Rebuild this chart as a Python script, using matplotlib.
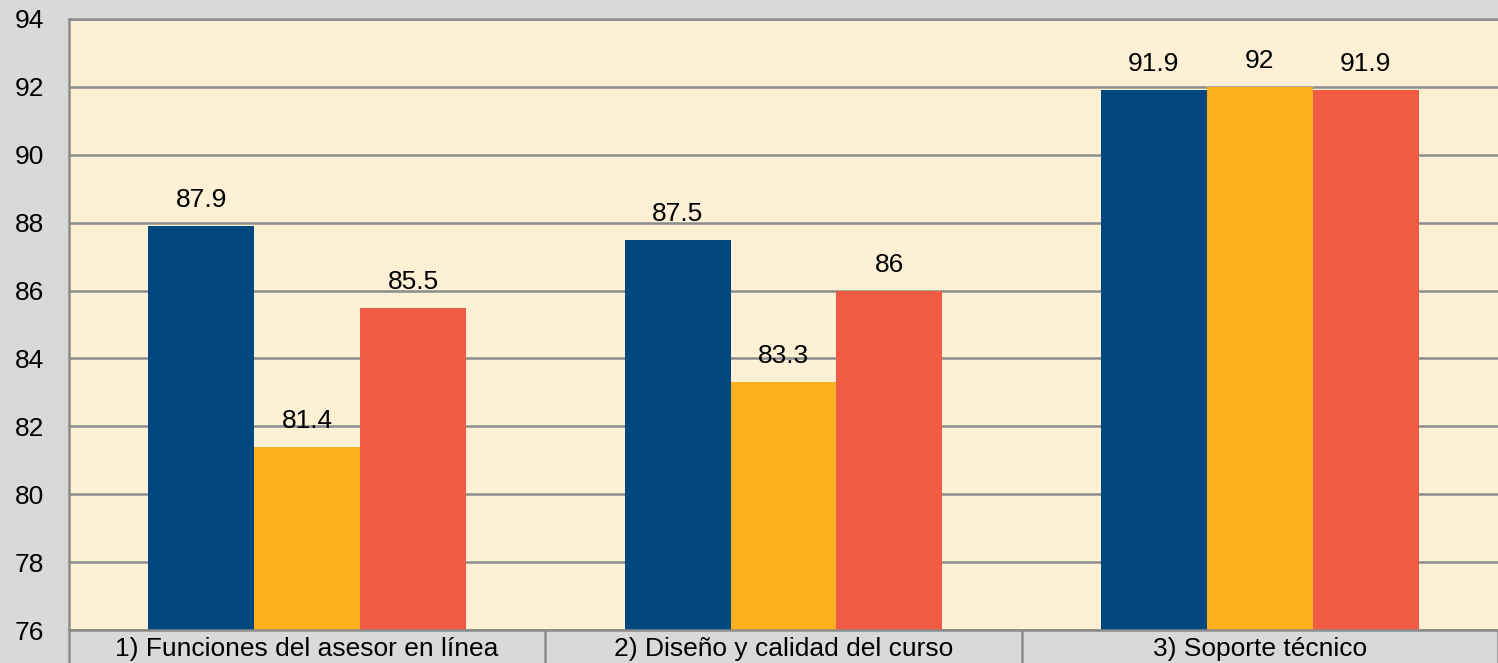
import numpy as np
import matplotlib.pyplot as plt

categories = ["1) Funciones del asesor en línea", "2) Diseño y calidad del curso", "3) Soporte técnico"]
serie_a = [87.9, 87.5, 91.9]
serie_b = [81.4, 83.3, 92.0]
serie_c = [85.5, 86.0, 91.9]
yticks = [76, 78, 80, 82, 84, 86, 88, 90, 92, 94]

colors = ["#00467f", "#fdb11f", "#f15a43"]
grid_col = "#8c8c8c"

plt.rcParams['font.family'] = ['Liberation Sans', 'DejaVu Sans']

fig = plt.figure(figsize=(14.98, 6.63), dpi=100, facecolor="#d9d9d9")
ax = fig.add_axes([69 / 1498, 33 / 663, 1429 / 1498, 611 / 663])
ax.set_facecolor("#fef0d5")

x = np.arange(len(categories))
w = 0.2225
for i, (vals, c) in enumerate(zip([serie_a, serie_b, serie_c], colors)):
    pos = x + (i - 1) * w
    ax.bar(pos, np.array(vals) - 76, w, bottom=76, color=c, zorder=2)
    for p, v in zip(pos, vals):
        ax.annotate(f"{v:g}", (p, v), xytext=(0, 10), textcoords="offset points",
                    ha="center", va="bottom", fontsize=19, color="black")

ax.set_ylim(76, 94)
ax.set_xlim(-0.5, 2.5)
ax.set_yticks(yticks)
ax.tick_params(axis="y", length=0, pad=18, labelsize=19)
ax.yaxis.grid(True, color=grid_col, linewidth=1.8)
ax.set_axisbelow(True)

ax.set_xticks(x)
ax.set_xticklabels(categories, fontsize=19)
ax.tick_params(axis="x", which="major", length=0, pad=5)
ax.set_xticks([-0.5, 0.5, 1.5, 2.5], minor=True)
ax.tick_params(axis="x", which="minor", length=24, width=1.8, color=grid_col, direction="out")

for s in ["left", "bottom", "top"]:
    ax.spines[s].set_color(grid_col)
    ax.spines[s].set_linewidth(1.8)
ax.spines["right"].set_visible(False)

fig.savefig("out.png", dpi=100, facecolor=fig.get_facecolor())
